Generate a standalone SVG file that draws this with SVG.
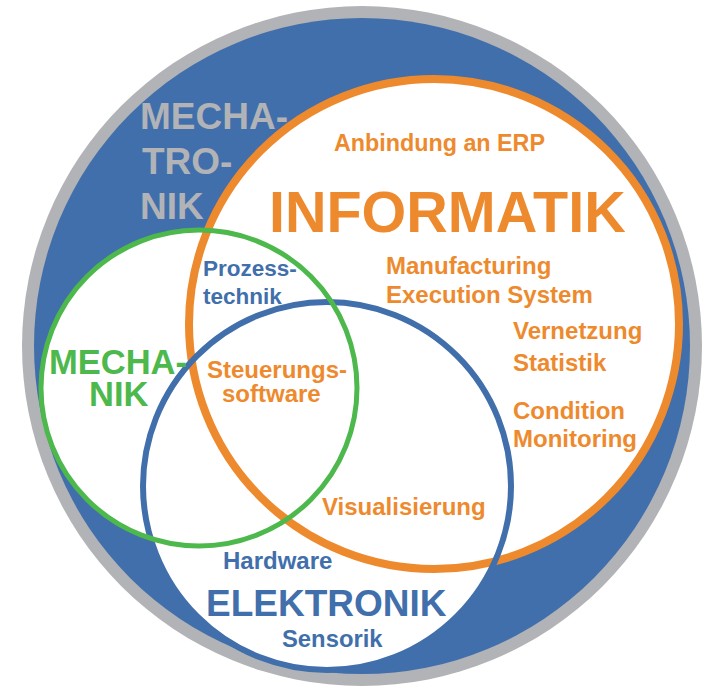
<svg xmlns="http://www.w3.org/2000/svg" width="702" height="688" viewBox="0 0 702 688">
<style>
text{font-family:"Liberation Sans",Arial,sans-serif;font-weight:bold}
.o{fill:#EE8A2E}.b{fill:#416FAB}.g{fill:#4DB84B}.gr{fill:#B1B3B6}
</style>
<rect width="702" height="688" fill="#ffffff"/>
<g id="mechatronik">
<circle cx="362" cy="346" r="340" fill="#B1B3B6"/>
<circle cx="362" cy="346" r="328" fill="#416FAB"/>
<text class="gr" x="140" y="129" font-size="37">MECHA-</text>
<text class="gr" x="142" y="174" font-size="37">TRO-</text>
<text class="gr" x="140" y="219" font-size="37">NIK</text>
</g>
<g id="fills">
<circle cx="434" cy="324" r="245" fill="#ffffff"/>
<circle cx="199" cy="388" r="158" fill="#ffffff"/>
<circle cx="327" cy="486" r="184" fill="#ffffff"/>
</g>
<g id="rings">
<circle cx="434" cy="324" r="245" fill="none" stroke="#EE8A2E" stroke-width="8"/>
<circle cx="327" cy="486" r="184" fill="none" stroke="#416FAB" stroke-width="6"/>
<circle cx="199" cy="388" r="158" fill="none" stroke="#4DB84B" stroke-width="5"/>
</g>
<g id="informatik">
<text class="o" x="334" y="151" font-size="23.3">Anbindung an ERP</text>
<text class="o" x="269" y="232" font-size="57.5">INFORMATIK</text>
<text class="o" x="386" y="274" font-size="24">Manufacturing</text>
<text class="o" x="386" y="303" font-size="24">Execution System</text>
<text class="o" x="513" y="339" font-size="24">Vernetzung</text>
<text class="o" x="513" y="371" font-size="24">Statistik</text>
<text class="o" x="513" y="419" font-size="24">Condition</text>
<text class="o" x="513" y="447" font-size="24">Monitoring</text>
<text class="o" x="322" y="515" font-size="24">Visualisierung</text>
<text class="o" x="207" y="378" font-size="24">Steuerungs-</text>
<text class="o" x="222" y="402" font-size="24">software</text>
</g>
<g id="mechanik">
<text class="g" x="49" y="374" font-size="34.5">MECHA-</text>
<text class="g" x="89" y="406" font-size="34.5">NIK</text>
</g>
<g id="elektronik">
<text class="b" x="203" y="276" font-size="22.5">Prozess-</text>
<text class="b" x="203" y="304" font-size="22.5">technik</text>
<text class="b" x="223" y="569" font-size="24">Hardware</text>
<text class="b" x="206" y="616" font-size="37">ELEKTRONIK</text>
<text class="b" x="282" y="647" font-size="23.8">Sensorik</text>
</g>
</svg>
